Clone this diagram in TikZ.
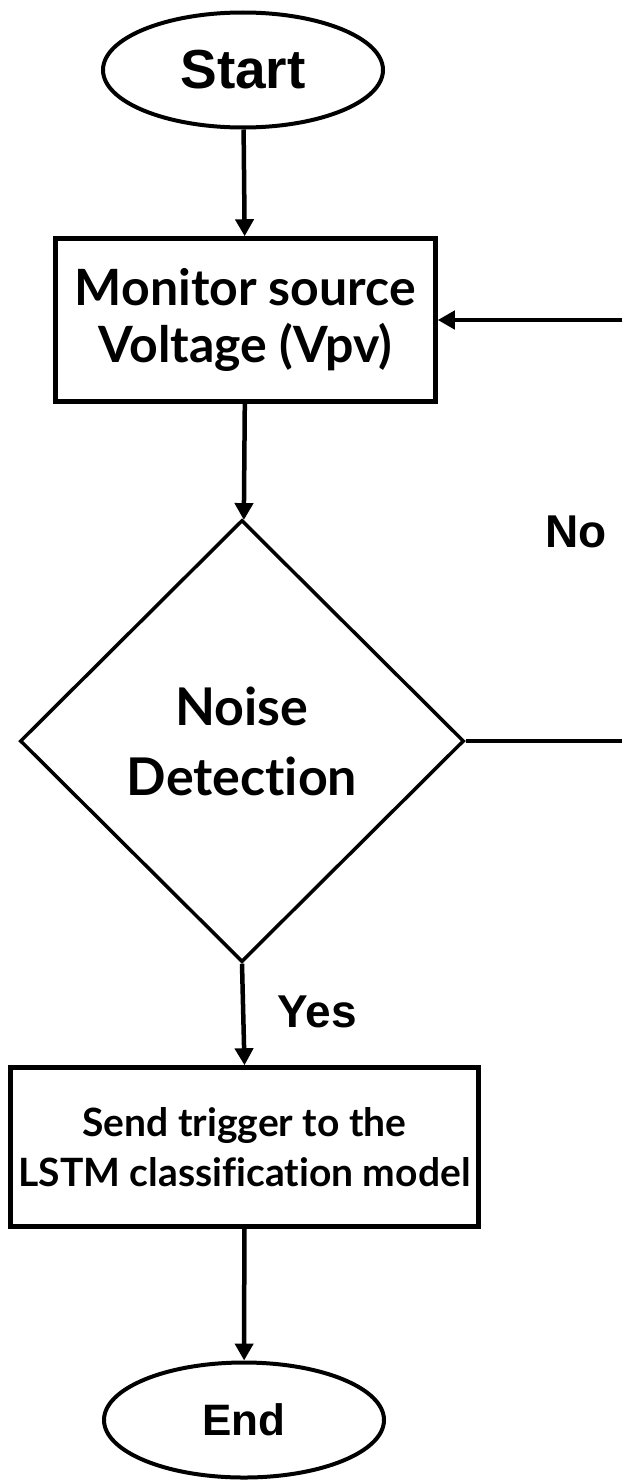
\documentclass[tikz,border=0pt]{standalone}
\usepackage{fontspec}
\setmainfont{Liberation Sans}
\newfontfamily\avfont[Ligatures=NoCommon]{Lato}
\usetikzlibrary{shapes.geometric,arrows.meta}
\begin{document}
\begin{tikzpicture}[x=1pt,y=-1pt,
  term/.style={ellipse, draw, line width=4pt, minimum width=280pt, minimum height=115pt, inner sep=0pt},
  procbox/.style={rectangle, draw, line width=4.5pt, inner sep=0pt, align=center},
  decision/.style={diamond, draw, line width=3.5pt, inner sep=0pt, minimum width=444pt, minimum height=442pt, align=center},
  arr/.style={-{Triangle[width=18pt,length=17pt]}, line width=4.5pt},
  conn/.style={line width=4.5pt},
  lbl/.style={font=\bfseries\fontsize{46}{50}\selectfont, inner sep=0pt}
]
\useasboundingbox (0,0) rectangle (622,1480);
\fill[white] (0,0) rectangle (622,1480);

\node[term, font=\bfseries\fontsize{55}{60}\selectfont] (start) at (243,70) {Start};
\node[procbox, minimum width=380pt, minimum height=163pt, font=\avfont\bfseries\fontsize{50}{57}\selectfont] (monitor) at (245.5,320) {Monitor source\\Voltage (Vpv)};
\node[decision, font=\avfont\bfseries\fontsize{52}{70}\selectfont] (noise) at (242,741) {Noise\\Detection};
\node[procbox, minimum width=468pt, minimum height=159pt, font=\avfont\bfseries\fontsize{39}{50}\selectfont] (lstm) at (244.5,1147) {Send trigger to the\\LSTM classification model};
\node[term, font=\bfseries\fontsize{44}{50}\selectfont] (end) at (244,1420) {End};

\node[lbl] (no) at (576,532) {No};
\node[lbl] (yes) at (317,1012) {Yes};

\coordinate (outA) at (622,741);
\coordinate (outB) at (622,320);

\draw[arr] (start) -- (monitor);
\draw[arr] (monitor) -- (noise);
\draw[conn] (noise.east) -- (outA);
\draw[arr] (outB) -- (outB -| monitor.east);
\draw[arr] (noise.south) -- (lstm.north);
\draw[arr] (lstm) -- (end);
\end{tikzpicture}
\end{document}
